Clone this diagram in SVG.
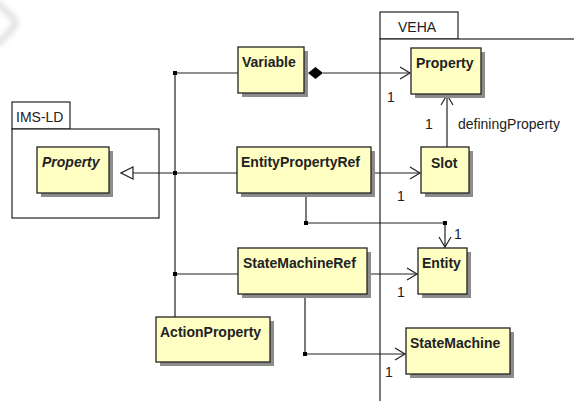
<svg xmlns="http://www.w3.org/2000/svg" width="574" height="401" viewBox="0 0 574 401">
  <style>
    .cls { fill: #ffffc4; stroke: #222; stroke-width: 1.3; }
    .shd { fill: #8c8c8c; }
    .pkg { fill: #fff; stroke: #222; stroke-width: 1.2; }
    .name { font-family: "Liberation Sans", Arial, sans-serif; font-size: 14px; font-weight: bold; fill: #222; }
    .lbl { font-family: "Liberation Sans", Arial, sans-serif; font-size: 14px; fill: #222; }
    .ln { fill: none; stroke: #222; stroke-width: 1.2; }
  </style>
  <defs>
    <marker id="open" markerWidth="14" markerHeight="14" refX="11" refY="7" orient="auto" markerUnits="userSpaceOnUse">
      <path d="M1,1 L11,7 L1,13" fill="none" stroke="#222" stroke-width="1.2"/>
    </marker>
    <marker id="tri" markerWidth="14" markerHeight="14" refX="13" refY="7" orient="auto" markerUnits="userSpaceOnUse">
      <path d="M1,1 L13,7 L1,13 Z" fill="#fff" stroke="#222" stroke-width="1.2"/>
    </marker>
    <filter id="soft" x="-50%" y="-50%" width="200%" height="200%">
      <feGaussianBlur stdDeviation="2.5"/>
    </filter>
  </defs>

  <rect width="574" height="401" fill="#fff"/>
  <path d="M-4,2 L13,18 Q17,23 13,28 L-4,46" fill="none" stroke="#e4e4e4" stroke-width="7" filter="url(#soft)"/>

  <!-- packages -->
  <g id="pkg-imsld">
    <rect class="pkg" x="12" y="102" width="58" height="27"/>
    <rect class="pkg" x="12" y="129" width="147" height="89"/>
    <text class="lbl" x="16" y="122">IMS-LD</text>
  </g>
  <g id="pkg-veha">
    <rect class="pkg" x="380" y="12" width="78" height="27"/>
    <rect class="pkg" x="380" y="39" width="200" height="370"/>
    <text class="lbl" x="398" y="32">VEHA</text>
  </g>

  <!-- connectors -->
  <g id="connectors">
    <path class="ln" d="M238,73 H175 V317"/>
    <path class="ln" d="M323,73 H410" marker-end="url(#open)"/>
    <path class="ln" d="M237,173 H121" marker-end="url(#tri)"/>
    <path class="ln" d="M371,173 H420" marker-end="url(#open)"/>
    <path class="ln" d="M306,193 V223 H445 V247" marker-end="url(#open)"/>
    <path class="ln" d="M238,274 H175"/>
    <path class="ln" d="M367,274 H417" marker-end="url(#open)"/>
    <path class="ln" d="M305,294 V354 H405" marker-end="url(#open)"/>
    <path class="ln" d="M447,147 V95" marker-end="url(#open)"/>
    <path d="M308,73 L315.5,67 L323,73 L315.5,79 Z" fill="#000"/>
    <rect x="173" y="71" width="4" height="4" fill="#000"/>
    <rect x="173" y="171" width="4" height="4" fill="#000"/>
    <rect x="173" y="272" width="4" height="4" fill="#000"/>
    <rect x="304" y="221" width="4" height="4" fill="#000"/>
    <rect x="443" y="221" width="4" height="4" fill="#000"/>
    <rect x="303" y="352" width="4" height="4" fill="#000"/>
    <text class="lbl" x="387" y="102">1</text>
    <text class="lbl" x="425" y="129">1</text>
    <text class="lbl" x="458" y="129">definingProperty</text>
    <text class="lbl" x="397" y="201">1</text>
    <text class="lbl" x="454" y="239">1</text>
    <text class="lbl" x="397" y="297">1</text>
    <text class="lbl" x="385" y="377">1</text>
  </g>

  <!-- classes -->
  <g id="veha-property">
    <rect class="shd" x="415" y="52" width="70" height="46"/>
    <rect class="cls" x="411" y="48" width="70" height="46"/>
    <text class="name" x="416" y="68">Property</text>
  </g>
  <g id="slot">
    <rect class="shd" x="425" y="151" width="48" height="46"/>
    <rect class="cls" x="421" y="147" width="48" height="46"/>
    <text class="name" x="431" y="168">Slot</text>
  </g>
  <g id="entity">
    <rect class="shd" x="422" y="252" width="49" height="46"/>
    <rect class="cls" x="418" y="248" width="49" height="46"/>
    <text class="name" x="422" y="268">Entity</text>
  </g>
  <g id="state-machine">
    <rect class="shd" x="410" y="332" width="104" height="46"/>
    <rect class="cls" x="406" y="328" width="104" height="46"/>
    <text class="name" x="410" y="348">StateMachine</text>
  </g>
  <g id="variable">
    <rect class="shd" x="242" y="51" width="66" height="46"/>
    <rect class="cls" x="238" y="47" width="66" height="46"/>
    <text class="name" x="242" y="67">Variable</text>
  </g>
  <g id="imsld-property">
    <rect class="shd" x="41" y="151" width="72" height="46"/>
    <rect class="cls" x="37" y="147" width="72" height="46"/>
    <text class="name" x="42" y="167" font-style="italic">Property</text>
  </g>
  <g id="entity-property-ref">
    <rect class="shd" x="241" y="151" width="134" height="46"/>
    <rect class="cls" x="237" y="147" width="134" height="46"/>
    <text class="name" x="241" y="167">EntityPropertyRef</text>
  </g>
  <g id="state-machine-ref">
    <rect class="shd" x="242" y="252" width="129" height="46"/>
    <rect class="cls" x="238" y="248" width="129" height="46"/>
    <text class="name" x="243" y="268">StateMachineRef</text>
  </g>
  <g id="action-property">
    <rect class="shd" x="160" y="321" width="114" height="45"/>
    <rect class="cls" x="156" y="317" width="114" height="45"/>
    <text class="name" x="160" y="337">ActionProperty</text>
  </g>
</svg>
